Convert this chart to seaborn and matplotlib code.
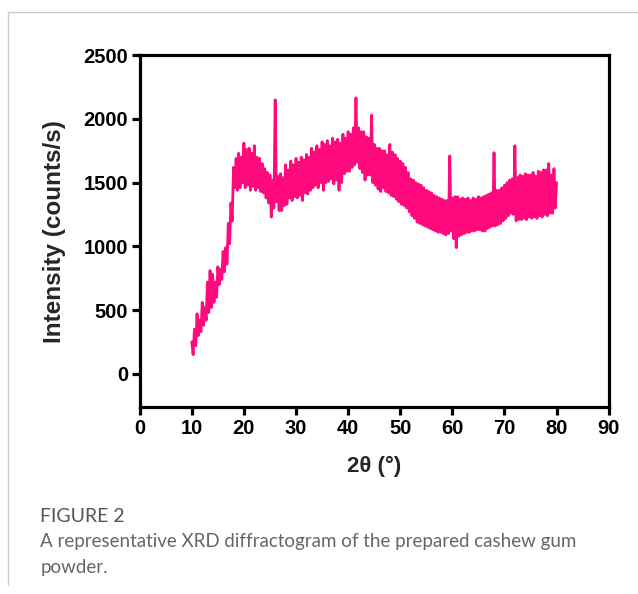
import numpy as np
import matplotlib
matplotlib.use("Agg")
import matplotlib.pyplot as plt
from matplotlib.lines import Line2D
import seaborn as sns

sns.set_theme(style="ticks")
plt.rcParams["font.family"] = ["Liberation Sans", "DejaVu Sans"]

# Scan: 10-80 deg 2theta, 0.25 deg step (instrument step)
two_theta = np.arange(10.0, 80.01, 0.25)

# Intensity (counts/s), 4 readings per degree
intensity = [
    # 10-19
    250, 150, 350, 220, 470, 300, 420, 330, 560, 380, 520, 420,
    720, 480, 810, 520, 780, 560, 720, 600, 840, 700, 820, 740,
    960, 800, 990, 860, 1180, 1020, 1340, 1200, 1620, 1460, 1690, 1440,
    1730, 1460, 1700, 1500,
    # 20-29
    1810, 1460, 1760, 1480, 1770, 1440, 1730, 1470, 1790, 1440, 1700, 1460,
    1690, 1430, 1650, 1420, 1610, 1380, 1580, 1340, 1560, 1230, 1520, 1300,
    2150, 1350, 1550, 1280, 1570, 1280, 1540, 1320, 1640, 1330, 1600, 1380,
    1670, 1360, 1640, 1390,
    # 30-39
    1690, 1380, 1660, 1400, 1700, 1360, 1680, 1420, 1720, 1410, 1700, 1440,
    1770, 1460, 1740, 1480, 1790, 1460, 1760, 1500, 1820, 1440, 1800, 1500,
    1830, 1510, 1790, 1530, 1850, 1490, 1820, 1520, 1840, 1440, 1810, 1500,
    1880, 1570, 1850, 1590,
    # 40-49
    1900, 1590, 1880, 1620, 1930, 1640, 2165, 1660, 1930, 1610, 1900, 1580,
    1900, 1520, 1860, 1560, 1850, 1560, 2030, 1500, 1800, 1480, 1770, 1450,
    1770, 1430, 1750, 1460, 1750, 1430, 1720, 1420, 1800, 1400, 1740, 1390,
    1720, 1370, 1690, 1350,
    # 50-59
    1670, 1330, 1650, 1320, 1620, 1300, 1580, 1270, 1530, 1240, 1520, 1220,
    1500, 1190, 1490, 1180, 1480, 1170, 1460, 1160, 1440, 1150, 1430, 1140,
    1420, 1130, 1400, 1120, 1390, 1110, 1380, 1110, 1370, 1100, 1360, 1090,
    1360, 1100, 1710, 1120,
    # 60-69
    1380, 1060, 1390, 990, 1390, 1080, 1370, 1090, 1380, 1100, 1370, 1110,
    1380, 1110, 1360, 1120, 1380, 1120, 1370, 1130, 1390, 1130, 1380, 1120,
    1390, 1120, 1400, 1140, 1410, 1150, 1420, 1160, 1735, 1160, 1440, 1170,
    1440, 1180, 1460, 1200,
    # 70-80
    1480, 1220, 1500, 1240, 1520, 1260, 1530, 1250, 1790, 1200, 1540, 1210,
    1560, 1210, 1550, 1220, 1570, 1210, 1560, 1230, 1560, 1220, 1580, 1230,
    1550, 1220, 1590, 1240, 1580, 1230, 1600, 1250, 1600, 1240, 1650, 1260,
    1560, 1260, 1610, 1300, 1500,
]

x_ticks = [0, 10, 20, 30, 40, 50, 60, 70, 80, 90]
y_ticks = [0, 500, 1000, 1500, 2000, 2500]

fig = plt.figure(figsize=(6.38, 5.94), dpi=100)
ax = fig.add_axes([0.219, 0.315, 0.735, 0.592])

sns.lineplot(x=two_theta, y=intensity, ax=ax, color="#ff0a7c",
             linewidth=2.0, estimator=None, sort=False)

ax.set_xlim(0, 90)
ax.set_ylim(-260, 2500)
ax.set_xticks(x_ticks)
ax.set_yticks(y_ticks)
for s in ax.spines.values():
    s.set_linewidth(2.3)
    s.set_color("black")
ax.tick_params(axis="both", direction="out", length=5.5, width=2.3,
               labelsize=14.5, pad=3, colors="black")
for lab in ax.get_xticklabels() + ax.get_yticklabels():
    lab.set_fontweight("bold")
ax.set_xlabel("2θ (°)", fontsize=16, fontweight="bold", labelpad=13)
ax.set_ylabel("Intensity (counts/s)", fontsize=17.5, fontweight="bold",
              labelpad=12)

# page frame
fig.add_artist(Line2D([0.0125, 1.0], [0.98, 0.98], color="#cccccc", lw=1))
fig.add_artist(Line2D([0.0125, 0.0125], [0.015, 0.98], color="#cccccc", lw=1))

fig.text(0.063, 0.131, "FIGURE 2", family=["Lato", "DejaVu Sans"],
         fontsize=14, color="#555555", va="center")
fig.text(0.063, 0.088,
         "A representative XRD diffractogram of the prepared cashew gum",
         family=["Lato", "DejaVu Sans"], fontsize=13.5, color="#666666",
         va="center")
fig.text(0.063, 0.045, "powder.", family=["Lato", "DejaVu Sans"],
         fontsize=13.5, color="#666666", va="center")

fig.savefig("out.png", dpi=100)
